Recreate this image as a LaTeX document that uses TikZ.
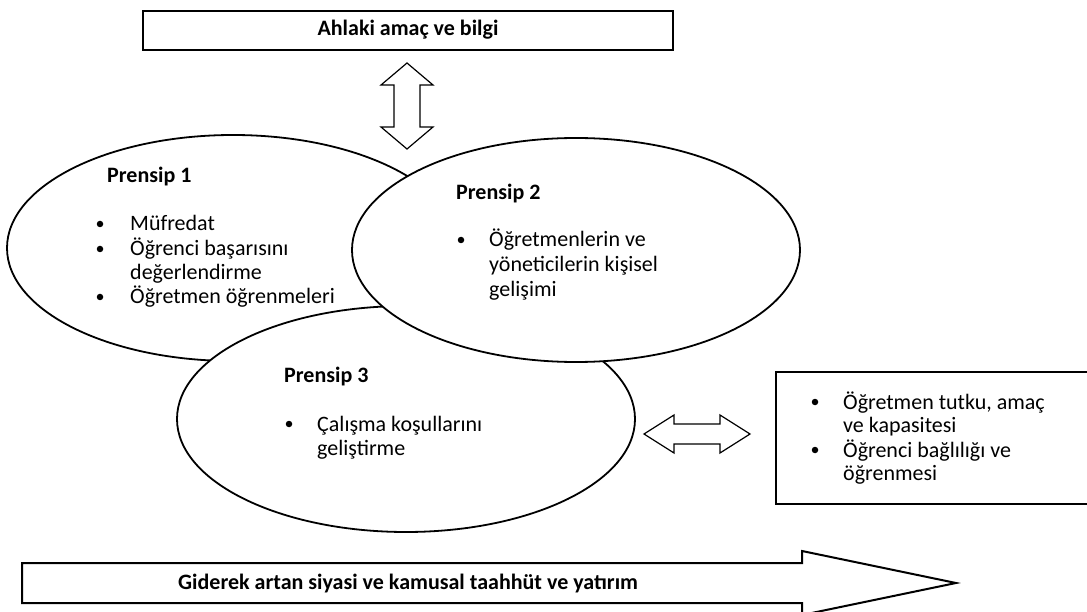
\documentclass[tikz,border=0pt]{standalone}
\usepackage{fontspec}
\setmainfont{Carlito}
\usetikzlibrary{shapes.geometric}
\begin{document}
\begin{tikzpicture}[x=1pt,y=-1pt,
  ell/.style={draw, ellipse, line width=1.8pt, fill=white, inner sep=0pt},
  box/.style={draw, line width=2.2pt, inner sep=0pt},
  txt/.style={anchor=base west, inner sep=0pt, font=\fontsize{22}{26}\selectfont},
  hd/.style={anchor=base west, inner sep=0pt, font=\fontsize{22}{26}\selectfont\bfseries},
  dot/.style={circle, fill, inner sep=0pt, minimum size=6.5pt},
  blk/.style={draw, line width=1.2pt, fill=white, line join=miter}]
\useasboundingbox (0,0) rectangle (1087,612);
\clip (0,0) rectangle (1087,612);

% top box
\node[box, minimum width=530pt, minimum height=39pt] (top) at (408,30.5) {};
% ellipses (order: 1, 3, 2)
\node[ell, minimum width=452pt, minimum height=226pt] (e1) at (233,248) {};
\node[ell, minimum width=458pt, minimum height=226pt] (e3) at (406,419) {};
\node[ell, minimum width=448pt, minimum height=224pt] (e2) at (576,250) {};
% right box
\node[box, anchor=north west, minimum width=330pt, minimum height=132pt] (rb) at (775,371) {};

% vertical double arrow
\coordinate (va) at (407,106);
\draw[blk] (407,63) -- (433,85) -- (420,85) -- (420,127) -- (433,127) -- (407,149)
  -- (381,127) -- (394,127) -- (394,85) -- (381,85) -- cycle;
% horizontal double arrow
\coordinate (ha) at (697,434);
\draw[blk] (644,434) -- (674,415) -- (674,424) -- (720,424) -- (720,415) -- (750,434)
  -- (720,453) -- (720,444) -- (674,444) -- (674,453) -- cycle;
% bottom arrow
\draw[blk, line width=2pt] (22,563) -- (802,563) -- (802,551) -- (956,583) -- (802,615)
  -- (802,603) -- (22,603) -- cycle;

% texts
\node[hd, anchor=base] (toptxt) at (408,36) {Ahlaki amaç ve bilgi};

\node[hd] (p1) at (107,183) {Prensip 1};
\node[dot] (b11) at (100,224) {}; \node[txt] (t11) at (130,231) {Müfredat};
\node[dot] (b12) at (100,249) {}; \node[txt] (t12) at (130,256) {Öğrenci başarısını};
\node[txt] (t13) at (130,280) {değerlendirme};
\node[dot] (b13) at (100,297) {}; \node[txt] (t14) at (130,304) {Öğretmen öğrenmeleri};

\node[hd] (p2) at (456,200) {Prensip 2};
\node[dot] (b21) at (461,240) {}; \node[txt] (t21) at (489,247) {Öğretmenlerin ve};
\node[txt] (t22) at (489,272) {yöneticilerin kişisel};
\node[txt] (t23) at (489,297) {gelişimi};

\node[hd] (p3) at (284,382) {Prensip 3};
\node[dot] (b31) at (289,424) {}; \node[txt] (t31) at (317,431) {Çalışma koşullarını};
\node[txt] (t32) at (317,455) {geliştirme};

\node[dot] (b41) at (815,402) {}; \node[txt] (t41) at (843,409) {Öğretmen tutku, amaç};
\node[txt] (t42) at (843,432) {ve kapasitesi};
\node[dot] (b42) at (815,450) {}; \node[txt] (t43) at (843,457) {Öğrenci bağlılığı ve};
\node[txt] (t44) at (843,480) {öğrenmesi};

\node[hd] (bot) at (178,589) {Giderek artan siyasi ve kamusal taahhüt ve yatırım};
\end{tikzpicture}
\end{document}
